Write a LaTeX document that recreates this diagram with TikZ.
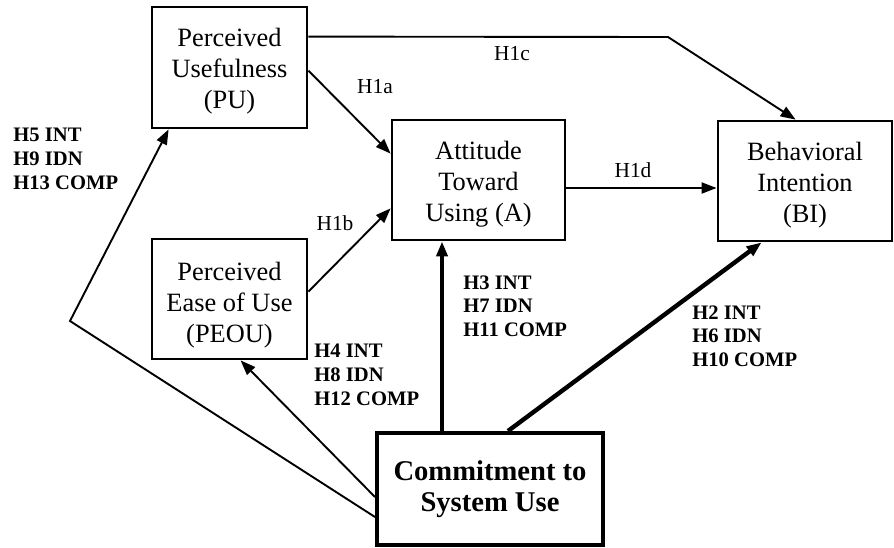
\documentclass[tikz,border=0pt]{standalone}
\usepackage{fontspec}
\setmainfont{Liberation Serif}
\usetikzlibrary{arrows.meta,calc}
\begin{document}
\begin{tikzpicture}[x=0.5pt,y=-0.5pt,
  box/.style={draw, line width=1.4pt, inner sep=0pt},
  boxtext/.style={align=center, inner sep=0pt, yshift=-2pt, font=\fontsize{13.2}{15.5}\selectfont},
  arr/.style={-{Triangle[length=7.5pt,width=5.5pt]}, line width=0.95pt},
  tarr/.style={-{Triangle[length=7.5pt,width=5.5pt]}, line width=2.2pt},
  lab/.style={anchor=base, inner sep=0pt, font=\fontsize{10.7}{12}\selectfont},
  blab/.style={anchor=north west, align=left, inner sep=0pt, font=\bfseries\fontsize{10.3}{11.8}\selectfont}]
\useasboundingbox (0,0) rectangle (894,547);
\node[box, minimum width=77.5pt, minimum height=60.5pt, label={[boxtext, name=PUt]center:Perceived\\Usefulness\\(PU)}] (PU) at (229.5,67.5) {};
\node[box, minimum width=77.5pt, minimum height=60pt, label={[boxtext, name=PEOUt, yshift=-1pt]center:Perceived\\Ease of Use\\(PEOU)}] (PEOU) at (229.5,299) {};
\node[box, minimum width=86.5pt, minimum height=60pt, label={[boxtext, name=At]center:Attitude\\Toward\\Using (A)}] (A) at (478.5,180) {};
\node[box, minimum width=87pt, minimum height=60pt, label={[boxtext, name=BIt]center:Behavioral\\Intention\\(BI)}] (BI) at (805,181) {};
\node[box, line width=2pt, minimum width=113pt, minimum height=56pt, align=center, font=\bfseries\fontsize{14.3}{15.5}\selectfont] (C) at (490,489) {Commitment to\\System Use};
\coordinate (k1) at (668,37);
\coordinate (k2) at (70,321);
\draw[arr] ($(PU.north east)+(0,31)$) -- (k1) -- ($(BI.north west)+(79,0)$);
\draw[arr] ($(PU.north east)+(0,65)$) -- ($(A.north west)+(0,35)$);
\draw[arr] ($(PEOU.north east)+(0,54)$) -- ($(A.south west)+(0,-33)$);
\draw[arr] ($(A.east)+(0,8)$) -- ($(BI.west)+(0,7)$);
\draw[tarr] ($(C.north west)+(67,0)$) coordinate (s3) -- (s3 |- A.south);
\draw[tarr] ($(C.north west)+(133,0)$) -- ($(BI.south west)+(45,0)$);
\draw[arr] ($(C.north west)+(0,66)$) -- ($(PEOU.south west)+(90,0)$);
\draw[arr] ($(C.north west)+(0,86)$) -- (k2) -- ($(PU.south west)+(18,0)$);
\node[lab] (h1a) at (375,93) {H1a};
\node[lab] (h1b) at (335,230) {H1b};
\node[lab] (h1c) at (512,60) {H1c};
\node[lab] (h1d) at (633,177) {H1d};
\node[blab] (h5) at (13,128) {H5 INT\\H9 IDN\\H13 COMP};
\node[blab] (h4) at (314,344) {H4 INT\\H8 IDN\\H12 COMP};
\node[blab] (h3) at (463,275) {H3 INT\\H7 IDN\\H11 COMP};
\node[blab] (h2) at (692,305) {H2 INT\\H6 IDN\\H10 COMP};
\end{tikzpicture}
\end{document}
